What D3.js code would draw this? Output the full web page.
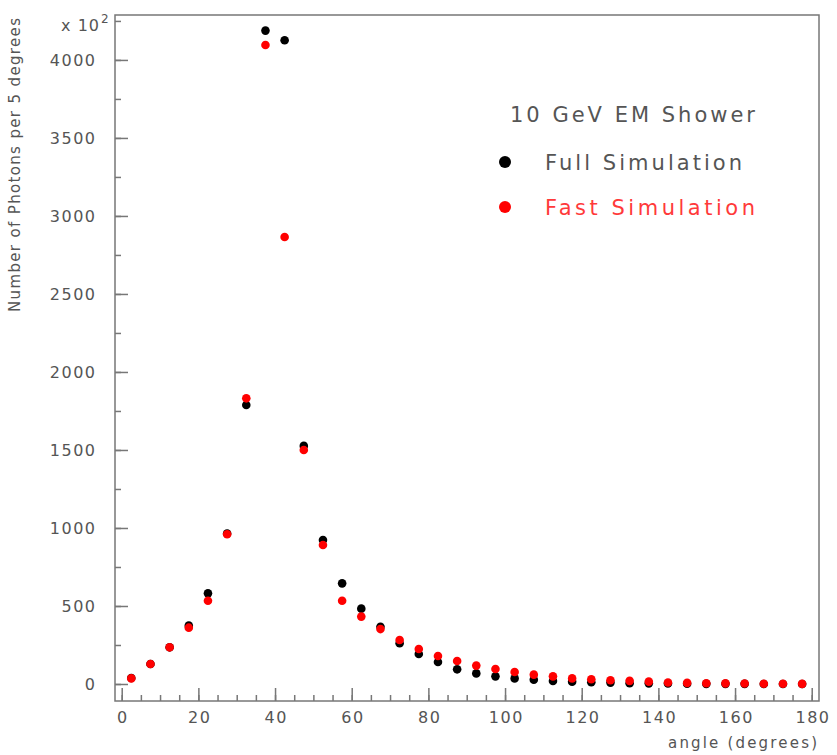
<!DOCTYPE html>
<html><head><meta charset="utf-8">
<script src="https://cdn.jsdelivr.net/npm/d3@7"></script>
<style>body{margin:0;background:#fff}svg{display:block}</style>
</head><body>
<script>
// bin centres (degrees)
const angles = d3.range(36).map(i => 2.5 + 5 * i);
// Full simulation (units of 10^2 photons)
const fullSim = [38,128,235,374,581,965,1788,4188,4126,1526,923,645,483,367,261,192,141,94,68,49,36,28,19,15,11,9,5,4,3,2,1,1,1,0,0,0];
// Fast simulation
const fastSim = [36,128,235,361,534,960,1831,4096,2865,1500,891,534,432,352,282,224,179,147,118,96,77,60,49,36,30,24,20,15,10,7,5,4,3,2,2,1];
const xMajorTicks = [0,20,40,60,80,100,120,140,160,180];
const yMajorTicks = [0,500,1000,1500,2000,2500,3000,3500,4000];
const legendTitle = "10 GeV EM Shower";
const seriesNames = ["Full Simulation", "Fast Simulation"];
const seriesColors = ["#000000", "#ff0000"];

const W = 837, H = 755;
const svg = d3.select("body").append("svg").attr("width", W).attr("height", H);
const FONT = "DejaVu Sans, sans-serif";
const TXT = "#555";
const AX = "#777";

const x = d3.scaleLinear().domain([-1.75, 181.9]).range([115, 819]);
const y = d3.scaleLinear().domain([-109, 4288]).range([701, 15]);

// frame
svg.append("rect").attr("x", x.range()[0]).attr("y", y.range()[1])
  .attr("width", x.range()[1] - x.range()[0]).attr("height", y.range()[0] - y.range()[1])
  .attr("fill", "none").attr("stroke", AX).attr("stroke-width", 1.5);

function styleAxis(g) {
  g.select(".domain").remove();
  g.selectAll(".tick line").attr("stroke", AX).attr("stroke-width", 1.5);
  g.selectAll(".tick text").attr("fill", TXT).attr("font-family", FONT)
    .attr("font-size", 16).attr("letter-spacing", "1.5px");
}

// x axis
const gxMinor = svg.append("g").attr("transform", `translate(0,${y.range()[0]})`)
  .call(d3.axisBottom(x).tickValues(d3.range(0, 181, 5)).tickSize(-6).tickFormat(""));
styleAxis(gxMinor);
const gx = svg.append("g").attr("transform", `translate(0,${y.range()[0]})`)
  .call(d3.axisBottom(x).tickValues(xMajorTicks).tickSize(-13).tickPadding(11).tickFormat(d3.format("d")));
styleAxis(gx);
gx.selectAll(".tick text").attr("dx", "0.75px");

// y axis
const gyMinor = svg.append("g").attr("transform", `translate(${x.range()[0]},0)`)
  .call(d3.axisLeft(y).tickValues(d3.range(0, 4251, 250)).tickSize(-6).tickFormat(""));
styleAxis(gyMinor);
const gy = svg.append("g").attr("transform", `translate(${x.range()[0]},0)`)
  .call(d3.axisLeft(y).tickValues(yMajorTicks).tickSize(-13).tickPadding(18.5).tickFormat(d3.format("d")));
styleAxis(gy);

// x 10^2 multiplier
svg.append("text").attr("x", 100).attr("y", 31).attr("text-anchor", "end")
  .attr("fill", TXT).attr("font-family", FONT).attr("font-size", 16).attr("letter-spacing", "1px").text("x 10");
svg.append("text").attr("x", 101).attr("y", 23).attr("fill", TXT).attr("font-family", FONT)
  .attr("font-size", 12).text("2");

// axis titles
svg.append("text").attr("x", 817).attr("y", 748).attr("text-anchor", "end")
  .attr("fill", TXT).attr("font-family", FONT).attr("font-size", 15)
  .attr("textLength", 149).attr("lengthAdjust", "spacing").text("angle (degrees)");
svg.append("text").attr("transform", "translate(20,165) rotate(-90)").attr("text-anchor", "middle")
  .attr("fill", TXT).attr("font-family", FONT).attr("font-size", 15)
  .attr("textLength", 294).attr("lengthAdjust", "spacing").text("Number of Photons per 5 degrees");

// data points
const series = [fullSim, fastSim];
series.forEach((vals, si) => {
  svg.append("g").selectAll("circle").data(vals).join("circle")
    .attr("cx", (d, i) => x(angles[i])).attr("cy", d => y(d))
    .attr("r", 4.3).attr("fill", seriesColors[si]);
});

// legend
svg.append("text").attr("x", 510).attr("y", 122).attr("fill", "#555")
  .attr("font-family", FONT).attr("font-size", 21)
  .attr("textLength", 245).attr("lengthAdjust", "spacing").text(legendTitle);
const legW = [197, 210];
const legTxtCol = ["#555", "#ff3a3a"];
seriesNames.forEach((n, i) => {
  const cy = 162 + 45 * i;
  svg.append("circle").attr("cx", 505).attr("cy", cy).attr("r", 6).attr("fill", seriesColors[i]);
  svg.append("text").attr("x", 545).attr("y", cy + 7.5).attr("fill", legTxtCol[i])
    .attr("font-family", FONT).attr("font-size", 21)
    .attr("textLength", legW[i]).attr("lengthAdjust", "spacing").text(n);
});
</script>
</body></html>
